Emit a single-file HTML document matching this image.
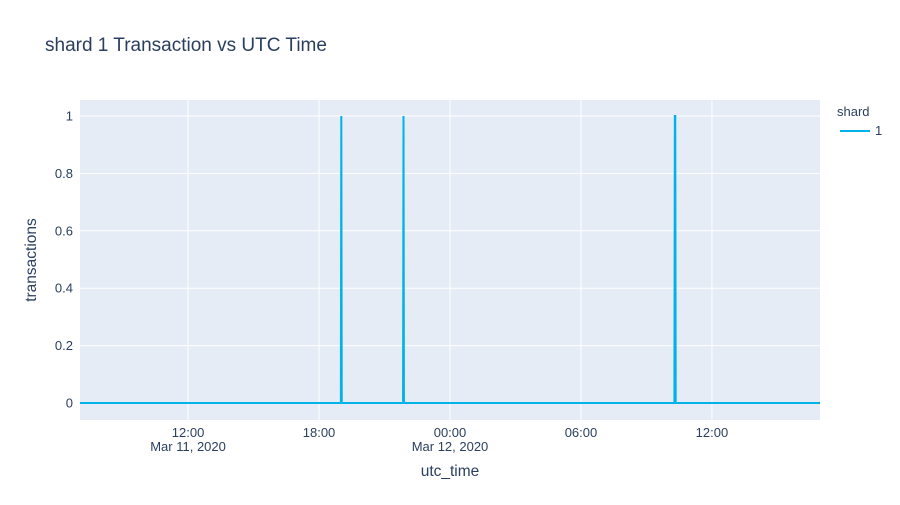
<!DOCTYPE html>
<html><head><meta charset="utf-8"><style>
body{margin:0;background:#fff;font-family:"Liberation Sans",Arial,sans-serif}
svg text{font-family:"Liberation Sans",Arial,sans-serif;fill:#2a3f5f}
</style></head><body>
<svg id="c" width="900" height="500" xmlns="http://www.w3.org/2000/svg">
<rect width="900" height="500" fill="#fff"/>
<text x="45" y="51" font-size="19">shard 1 Transaction vs UTC Time</text>
<rect x="80" y="100" width="740" height="320" fill="#e5ecf6"/>
<g id="grid"></g>
<g id="ticks"></g>
<path id="line" fill="none" stroke="#00b2e8" stroke-width="2"/>
<text x="450" y="476" font-size="15.5" text-anchor="middle">utc_time</text>
<text transform="translate(36,260) rotate(-90)" font-size="15.5" text-anchor="middle">transactions</text>
<text x="837" y="116" font-size="13">shard</text>
<g>
<line x1="840" y1="131" x2="870" y2="131" stroke="#00b2e8" stroke-width="2"/>
<text x="875" y="135" font-size="13">1</text>
</g>
</svg>
<script>
// times in hours since Mar 11 2020 00:00 UTC
const times = [7.05, 19.0, 19.02, 19.04, 21.85, 21.87, 21.89, 34.28, 34.30, 34.32, 34.34, 40.95];
const values = [0, 0, 1, 0, 0, 1, 0, 0, 1, 1, 0, 0];
const yTicks = [0, 0.2, 0.4, 0.6, 0.8, 1];
const yTickLabels = ["0", "0.2", "0.4", "0.6", "0.8", "1"];
const xTicks = [12, 18, 24, 30, 36];
const xTickLabels = ["12:00", "18:00", "00:00", "06:00", "12:00"];
const xSubLabels = ["Mar 11, 2020", "", "Mar 12, 2020", "", ""];

const NS = "http://www.w3.org/2000/svg";
const xMin = 7.05, xMax = 40.95;
const X = t => 80 + (t - xMin) / (xMax - xMin) * 740;
const Y = v => 403 - v * 287;
const grid = document.getElementById('grid'), ticks = document.getElementById('ticks');
function mk(tag, attrs, parent){const e=document.createElementNS(NS,tag);for(const k in attrs)e.setAttribute(k,attrs[k]);parent.appendChild(e);return e;}
yTicks.forEach((v,i)=>{
  const g = mk('line',{x1:80,x2:820,y1:Y(v),y2:Y(v),stroke:'#fff','stroke-width':1},grid);
  
  
  const t = mk('text',{x:79-6,y:Y(v)+4.5,'font-size':13,'text-anchor':'end'},ticks);
  t.textContent = yTickLabels[i];
  
  
});
xTicks.forEach((h,i)=>{
  const g = mk('line',{x1:X(h),x2:X(h),y1:100,y2:420,stroke:'#fff','stroke-width':1},grid);
  
  
  const t = mk('text',{x:X(h),y:437,'font-size':13,'text-anchor':'middle'},ticks);
  t.textContent = xTickLabels[i];
  
  
  if (xSubLabels[i]) {
    const s = mk('text',{x:X(h),y:451,'font-size':13,'text-anchor':'middle'},ticks);
    s.textContent = xSubLabels[i];
    
    
  }
});
let d = '';
times.forEach((t,i)=>{ d += (i?'L':'M') + X(t).toFixed(2) + ',' + Y(values[i]).toFixed(2); });
document.getElementById('line').setAttribute('d', d);
</script>
</body></html>
